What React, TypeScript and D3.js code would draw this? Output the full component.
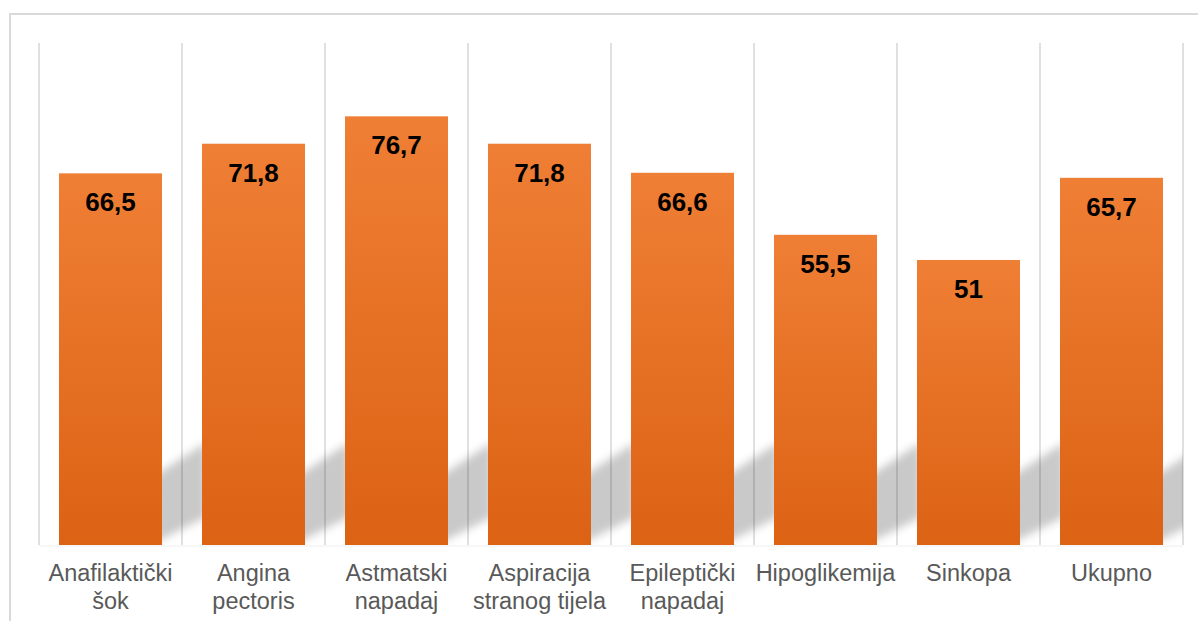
import * as d3 from 'd3';

const categories = [
  ['Anafilaktički', 'šok'],
  ['Angina', 'pectoris'],
  ['Astmatski', 'napadaj'],
  ['Aspiracija', 'stranog tijela'],
  ['Epileptički', 'napadaj'],
  ['Hipoglikemija'],
  ['Sinkopa'],
  ['Ukupno'],
];
const values = [66.5, 71.8, 76.7, 71.8, 66.6, 55.5, 51, 65.7];
const valueLabels = ['66,5', '71,8', '76,7', '71,8', '66,6', '55,5', '51', '65,7'];
const yMax = 90;

const W = 1198;
const H = 621;

export default function App() {
  const keys = categories.map((c) => c.join(' '));
  const x = d3
    .scaleBand<string>()
    .domain(keys)
    .range([39, 1183])
    .paddingInner(40 / 143)
    .paddingOuter(20 / 143);
  const y = d3.scaleLinear().domain([0, yMax]).range([545, 42]);

  const gap = x.step() - x.bandwidth();
  const base = y(0);
  // separators between categories
  const gridXs = keys.map((k) => (x(k) as number) - gap / 2);
  gridXs.push(x.range()[1]);

  // soft slanted shadow each bar casts to its right
  const shadowPath = (k: string) => {
    const x1 = (x(k) as number) + x.bandwidth();
    const left = x1 - 20;
    const right = x1 + gap + 4;
    const top = (xx: number) => base - 74 - 0.65 * (xx - x1);
    const bot = (xx: number) => base - 6 - 0.5 * (xx - x1);
    return `M${left},${top(left)}L${right},${top(right)}L${right},${bot(right)}L${left},${bot(left)}Z`;
  };

  return (
    <svg
      width={W}
      height={H}
      style={{ position: 'absolute', left: 0, top: 0, background: '#fff' }}
      fontFamily="'Liberation Sans', Arial, sans-serif"
    >
      <defs>
        <linearGradient id="barGrad" x1="0" y1="0" x2="0" y2="1">
          <stop offset="0" stopColor="#EF7F35" />
          <stop offset="1" stopColor="#DC6214" />
        </linearGradient>
        <filter id="blur" x="-50%" y="-50%" width="200%" height="200%">
          <feGaussianBlur stdDeviation="4.5" />
        </filter>
        <clipPath id="plotClip">
          <rect x={x.range()[0]} y={y(yMax)} width={x.range()[1] - x.range()[0]} height={base - y(yMax)} />
        </clipPath>
      </defs>

      <rect x={10} y={14} width={W + 20} height={H + 20} fill="#fff" stroke="#d9d9d9" strokeWidth={2} />

      {gridXs.map((gx, i) => (
        <line key={i} x1={gx} x2={gx} y1={y(yMax) + 1} y2={base} stroke="#d9d9d9" strokeWidth={1.6} />
      ))}

      <g clipPath="url(#plotClip)">
        {keys.map((k) => (
          <path key={k} d={shadowPath(k)} fill="#000" fillOpacity={0.21} filter="url(#blur)" />
        ))}
      </g>

      <line x1={x.range()[0]} x2={x.range()[1]} y1={base + 1} y2={base + 1} stroke="#eeeeee" strokeWidth={1} />

      {keys.map((k, i) => (
        <rect
          key={k}
          x={x(k)}
          y={y(values[i])}
          width={x.bandwidth()}
          height={base - y(values[i])}
          fill="url(#barGrad)"
        />
      ))}

      {keys.map((k, i) => (
        <text
          key={k}
          x={(x(k) as number) + x.bandwidth() / 2}
          y={y(values[i]) + 38}
          textAnchor="middle"
          fontSize={26}
          fontWeight="bold"
          fill="#000"
        >
          {valueLabels[i]}
        </text>
      ))}

      {categories.map((lines, i) => (
        <text
          key={i}
          x={(x(keys[i]) as number) + x.bandwidth() / 2}
          y={base + 36}
          textAnchor="middle"
          fontSize={23.5}
          fill="#595959"
        >
          {lines.map((ln, j) => (
            <tspan key={j} x={(x(keys[i]) as number) + x.bandwidth() / 2} dy={j === 0 ? 0 : 27.5}>
              {ln}
            </tspan>
          ))}
        </text>
      ))}
    </svg>
  );
}
